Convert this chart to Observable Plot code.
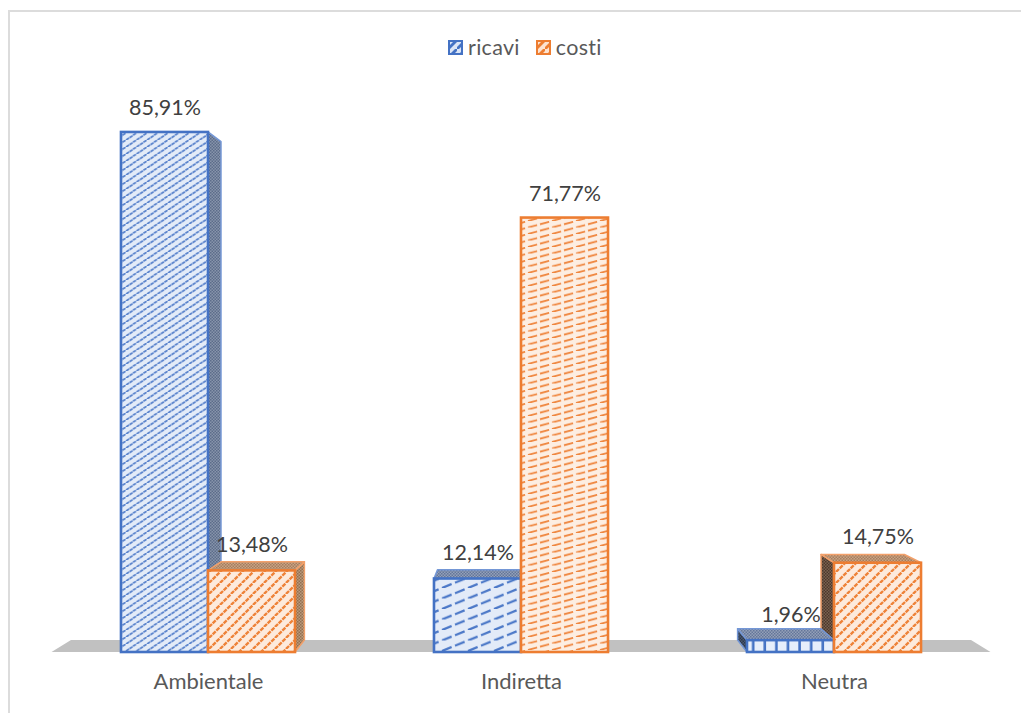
<!DOCTYPE html>
<html lang="it">
<head>
<meta charset="utf-8">
<script src="https://cdn.jsdelivr.net/npm/d3@7"></script>
<script src="https://cdn.jsdelivr.net/npm/@observablehq/plot@0.6"></script>
<style>
  html, body { margin: 0; padding: 0; background: #fff; width: 1021px; height: 713px; overflow: hidden; }
  body { position: relative; font-family: Lato, "Noto Sans", sans-serif; }
  #edge { position: absolute; left: 8px; top: 10px; right: 0; bottom: 0; border-top: 2px solid #dcdcdc; border-left: 2px solid #dcdcdc; }
  #chart { position: absolute; left: 0; top: 0; }
  #legend { position: absolute; left: 448px; top: 33px; height: 28px; display: flex; align-items: center; font-size: 21.5px; color: #595959; }
  #legend svg { display: block; margin-right: 5px; }
  #legend span { display: flex; align-items: center; margin-right: 16px; letter-spacing: 0.3px; }
</style>
</head>
<body>
<div id="edge"></div>
<div id="chart"></div>
<div id="legend">
  <span><svg width="15" height="15"><rect x="1" y="1" width="13" height="13" fill="url(#swatch-ricavi)" stroke="#4472c4" stroke-width="2"/></svg>ricavi</span>
  <span><svg width="15" height="15"><rect x="1" y="1" width="13" height="13" fill="url(#swatch-costi)" stroke="#ed7d31" stroke-width="2"/></svg>costi</span>
</div>
<script>
const categories = ["Ambientale", "Indiretta", "Neutra"];
const ricavi = [85.91, 12.14, 1.96];
const costi = [13.48, 71.77, 14.75];
const ricaviFills = ["hatch-a", "hatch-b", "hatch-c"];
const costiFills = ["hatch-d", "hatch-e", "hatch-d"];

const BLUE = "#4472c4";
const ORANGE = "#ed7d31";
const barSpan = 0.278;         // bar width, in category units
const vanish = {x: 1, y: 47.5}; // vanishing point of the 3D boxes, in data units
const depth = 0.0415;          // how far box backs recede towards it

const rows = categories.flatMap((category, i) => [
  {category, series: "ricavi", x1: i - barSpan, x2: i, value: ricavi[i], fill: `url(#${ricaviFills[i]})`, stroke: BLUE, edge: "#7497d6"},
  {category, series: "costi", x1: i, x2: i + barSpan, value: costi[i], fill: `url(#${costiFills[i]})`, stroke: ORANGE, edge: "#f2a06a"}
]);

// Hatch and dither fills for the box faces
function hatch(id, w, h, bg, ink, width, dashes, on) {
  const dash = dashes ? `pathLength="${dashes}" stroke-dasharray="${on} ${1 - on}"` : "";
  const segs = [[0, h, w, 0], [-w, h, 0, 0], [w, h, 2 * w, 0]]
    .map(([a, b, c, d]) => `<path d="M${a},${b}L${c},${d}" stroke="${ink}" stroke-width="${width}" ${dash}/>`).join("");
  return `<pattern id="${id}" width="${w}" height="${h}" patternUnits="userSpaceOnUse"><rect width="${w}" height="${h}" fill="${bg}"/>${segs}</pattern>`;
}
function dither(id, light, dark) {
  return `<pattern id="${id}" width="3" height="3" patternUnits="userSpaceOnUse"><rect width="3" height="3" fill="${light}"/><rect width="1.5" height="1.5" fill="${dark}"/><rect x="1.5" y="1.5" width="1.5" height="1.5" fill="${dark}"/></pattern>`;
}
const defs = [
  hatch("hatch-a", 10.5, 7, "#e3ebf8", "#5a83cc", 1.8, 3, 0.86),
  hatch("hatch-b", 26, 10.5, "#e3ebf8", "#4a77c7", 2.2, 2, 0.74),
  `<pattern id="hatch-c" width="11.6" height="12" patternUnits="userSpaceOnUse" x="0.5"><rect width="11.6" height="12" fill="#e6eefb"/><rect x="9" width="2.6" height="12" fill="${BLUE}"/></pattern>`,
  hatch("hatch-d", 11, 11, "#fdeadc", "#ee8238", 2.3, 3, 0.82),
  hatch("hatch-e", 24, 6.5, "#fdeee2", "#ef843b", 1.7, 2, 0.76),
  dither("side-ricavi-right", "#8794ab", "#5c6c8a"),
  dither("side-ricavi-left", "#4a5870", "#2c384c"),
  dither("top-ricavi", "#94a1b8", "#64769a"),
  dither("side-costi-right", "#b99a7e", "#94704f"),
  dither("side-costi-left", "#7a6250", "#4c382c"),
  dither("top-costi", "#c9a384", "#a67e5e"),
  `<pattern id="swatch-ricavi" width="9" height="9" patternUnits="userSpaceOnUse"><rect width="9" height="9" fill="#dbe5f6"/><path d="M0,9L9,0" stroke="${BLUE}" stroke-width="2.8"/></pattern>`,
  `<pattern id="swatch-costi" width="9" height="9" patternUnits="userSpaceOnUse"><rect width="9" height="9" fill="#fde3d0"/><path d="M0,9L9,0" stroke="${ORANGE}" stroke-width="2.8"/></pattern>`
].join("");

function patternDefs() {
  const g = d3.create("svg:defs");
  g.html(defs);
  return g.node();
}

// Projects a front-plane position onto the back plane of the box
function backOf(scales) {
  const vx = scales.x(vanish.x), vy = scales.y(vanish.y);
  return ([px, py]) => [px + depth * (vx - px), py + depth * (vy - py)];
}

function polygon(g, points, fill, stroke, width) {
  g.append("path")
    .attr("d", `M${points.map((p) => p.join(",")).join("L")}Z`)
    .attr("fill", fill)
    .attr("stroke", stroke)
    .attr("stroke-width", width)
    .attr("stroke-linejoin", "round");
}

// Grey floor under the bars
function floorMark(index, scales) {
  const g = d3.create("svg:g");
  const back = backOf(scales);
  const x0 = scales.x(-0.5), x1 = scales.x(2.5), y0 = scales.y(0);
  polygon(g, [[x0, y0], [x1, y0], back([x1, y0]), back([x0, y0])], "#c1c1c1", "none", 0);
  return g.node();
}

// Top and side faces of each box, farthest from the vanishing point first
function boxFaces(index, scales) {
  const g = d3.create("svg:g");
  const back = backOf(scales);
  const vx = scales.x(vanish.x), vy = scales.y(vanish.y);
  const y0 = scales.y(0);
  const ordered = d3.sort(rows, (d) => -Math.abs(scales.x((d.x1 + d.x2) / 2) - vx));
  for (const d of ordered) {
    const a = scales.x(d.x1), b = scales.x(d.x2), t = scales.y(d.value);
    if (a >= vx + 1) {
      polygon(g, [[a, t], back([a, t]), back([a, y0]), [a, y0]], `url(#side-${d.series}-left)`, d.edge, 1.5);
    } else if (b <= vx - 1) {
      polygon(g, [[b, t], back([b, t]), back([b, y0]), [b, y0]], `url(#side-${d.series}-right)`, d.edge, 1.5);
    }
    if (t > vy) {
      polygon(g, [[a, t], [b, t], back([b, t]), back([a, t])], `url(#top-${d.series})`, d.edge, 1.5);
    }
  }
  return g.node();
}

const percent = (v) => v.toFixed(2).replace(".", ",") + "%";
const labelStyle = {
  x: (d) => (d.x1 + d.x2) / 2,
  y: "value",
  text: (d) => percent(d.value),
  fontSize: 21.5,
  fill: "#404040",
  textAnchor: "middle"
};

const chart = Plot.plot({
  width: 1021,
  height: 713,
  marginTop: 0,
  marginRight: 30.5,
  marginBottom: 61,
  marginLeft: 51.5,
  style: {background: "transparent", fontFamily: "Lato, 'Noto Sans', sans-serif"},
  x: {type: "linear", domain: [-0.5, 2.5], axis: null},
  y: {domain: [0, 107.71], axis: null},
  marks: [
    patternDefs,
    floorMark,
    boxFaces,
    Plot.rect(rows, {
      x1: "x1",
      x2: "x2",
      y1: 0,
      y2: "value",
      fill: {value: "fill", scale: null},
      stroke: {value: "stroke", scale: null},
      strokeWidth: 2.6
    }),
    Plot.text(rows.filter((d) => d.value > vanish.y), {...labelStyle, dy: -24}),
    Plot.text(rows.filter((d) => d.value <= vanish.y), {...labelStyle, dy: -26}),
    Plot.axisX({
      ticks: [0, 1, 2],
      tickFormat: (i) => categories[i],
      tickSize: 0,
      tickPadding: 21,
      label: null,
      fontSize: 22,
      letterSpacing: 0.5,
      fill: "#595959"
    })
  ]
});
document.getElementById("chart").append(chart);
</script>
</body>
</html>
